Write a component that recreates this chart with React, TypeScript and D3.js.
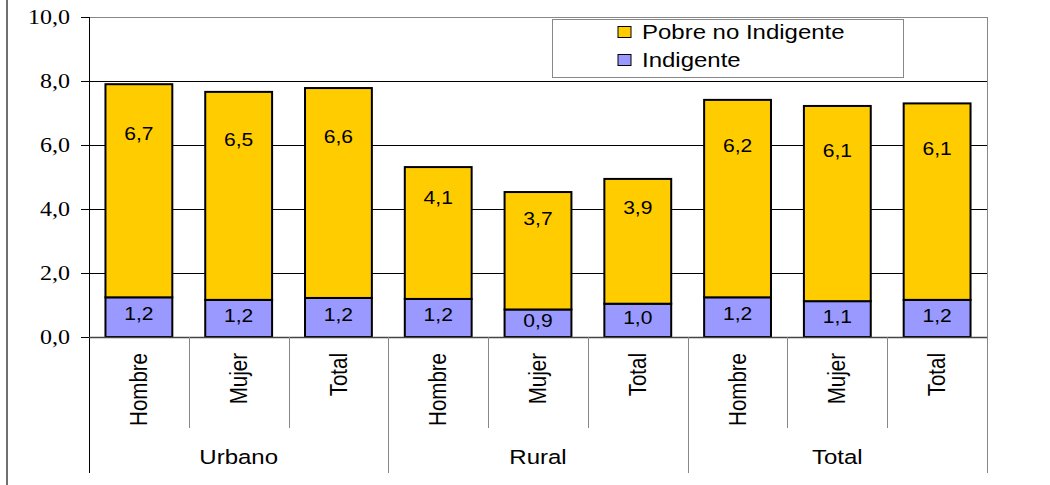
import React from "react";
import * as d3 from "d3";

const groups = ["Urbano", "Rural", "Total"];
const subCategories = ["Hombre", "Mujer", "Total"];
const indigente = [1.24, 1.16, 1.22, 1.19, 0.86, 1.04, 1.24, 1.12, 1.16];
const pobreNoIndigente = [6.66, 6.5, 6.56, 4.12, 3.67, 3.9, 6.17, 6.1, 6.14];
const yTicks = [0, 2, 4, 6, 8, 10];
const seriesNames = ["Pobre no Indigente", "Indigente"];
const seriesColors = ["#FFCC00", "#9999FF"];

const W = 1050;
const H = 485;
const left = 89;
const right = 987;
const top = 17;
const bottom = 337;
const SX = 1.17;

const sans = "Liberation Sans, Arial, sans-serif";
const serif = "Liberation Serif, Times New Roman, serif";

const fmt = (v: number) => v.toFixed(1).replace(".", ",");

export default function App() {
  const keys = groups.flatMap((g) => subCategories.map((c) => `${g}|${c}`));
  const x = d3.scaleBand<string>().domain(keys).range([left, right]).paddingInner(0.33).paddingOuter(0.165);
  const y = d3.scaleLinear().domain([0, 10]).range([bottom, top]);
  const step = x.step();
  const stack = keys.map((k, i) => ({
    key: k,
    sub: k.split("|")[1],
    ind: indigente[i],
    pob: pobreNoIndigente[i],
  }));

  const T = (props: { x: number; y: number; text: string; anchor?: string; size: number; font?: string; rotate?: boolean }) => (
    <text
      transform={`translate(${props.x},${props.y}) scale(${SX},1)${props.rotate ? " rotate(-90)" : ""}`}
      textAnchor={props.anchor || "middle"}
      dominantBaseline="central"
      style={{ fontFamily: props.font || sans, fontSize: props.size }}
      fill="#000"
    >
      {props.text}
    </text>
  );

  return (
    <svg width={W} height={H} style={{ position: "absolute", left: 0, top: 0, background: "#fff" }}>
      <rect x={0} y={0} width={W} height={H} fill="#fff" />
      {/* chart area left border */}
      <line x1={7} x2={7} y1={0} y2={H} stroke="#404040" strokeWidth={1.5} />
      {/* gridlines */}
      {yTicks.filter((t) => t > 0 && t < 10).map((t) => (
        <line key={t} x1={left} x2={right} y1={y(t) + 0.5} y2={y(t) + 0.5} stroke="#000" strokeWidth={1} shapeRendering="crispEdges" />
      ))}
      {/* plot border top/right */}
      <line x1={left} x2={right} y1={y(10) + 0.5} y2={y(10) + 0.5} stroke="#888" strokeWidth={1} shapeRendering="crispEdges" />
      <line x1={right + 0.5} x2={right + 0.5} y1={y(10)} y2={473} stroke="#888" strokeWidth={1} shapeRendering="crispEdges" />
      {/* bars */}
      {stack.map((d) => {
        const bx = x(d.key)!;
        const bw = x.bandwidth();
        return (
          <g key={d.key}>
            <rect x={bx} y={y(d.ind)} width={bw} height={y(0) - y(d.ind)} fill={seriesColors[1]} stroke="#000" strokeWidth={2} />
            <rect x={bx} y={y(d.ind + d.pob)} width={bw} height={y(d.ind) - y(d.ind + d.pob)} fill={seriesColors[0]} stroke="#000" strokeWidth={2} />
          </g>
        );
      })}
      {/* data labels */}
      {stack.map((d) => {
        const cx = x(d.key)! + x.bandwidth() / 2;
        return (
          <g key={"l" + d.key}>
            <T x={cx} y={y(d.ind * 0.58)} text={fmt(d.ind)} size={18} />
            <T x={cx} y={y(d.ind + d.pob * 0.77)} text={fmt(d.pob)} size={18} />
          </g>
        );
      })}
      {/* y axis */}
      <line x1={left + 0.5} x2={left + 0.5} y1={y(10)} y2={473} stroke="#000" strokeWidth={1} shapeRendering="crispEdges" />
      {yTicks.map((t) => (
        <g key={"t" + t}>
          <line x1={81} x2={left} y1={y(t) + 0.5} y2={y(t) + 0.5} stroke="#000" strokeWidth={1} shapeRendering="crispEdges" />
          <T x={70} y={y(t)} text={fmt(t)} anchor="end" size={20.5} font={serif} />
        </g>
      ))}
      {/* x axis */}
      <line x1={left} x2={right} y1={y(0) + 0.5} y2={y(0) + 0.5} stroke="#444" strokeWidth={1.5} />
      {keys.map((k, i) => {
        if (i === 0) return null;
        const bx = Math.round(left + step * i) + 0.5;
        const isGroup = i % 3 === 0;
        return <line key={"s" + k} x1={bx} x2={bx} y1={bottom} y2={isGroup ? 473 : 428} stroke="#888" strokeWidth={1} shapeRendering="crispEdges" />;
      })}
      {stack.map((d) => (
        <T key={"c" + d.key} x={x(d.key)! + x.bandwidth() / 2} y={353} text={d.sub} anchor="end" size={20.5} rotate />
      ))}
      {groups.map((g, gi) => (
        <T key={"g" + g} x={left + step * (gi * 3 + 1.5)} y={457} text={g} size={20.5} />
      ))}
      {/* legend */}
      <rect x={552.5} y={19.5} width={351} height={58} fill="#fff" stroke="#888" strokeWidth={1} shapeRendering="crispEdges" />
      {seriesNames.map((n, i) => {
        const cy = 32 + i * 28;
        return (
          <g key={n}>
            <rect x={618} y={cy - 5.5} width={13} height={11} fill={seriesColors[i]} stroke="#000" strokeWidth={1} />
            <T x={642} y={cy} text={n} anchor="start" size={20.5} />
          </g>
        );
      })}
    </svg>
  );
}
